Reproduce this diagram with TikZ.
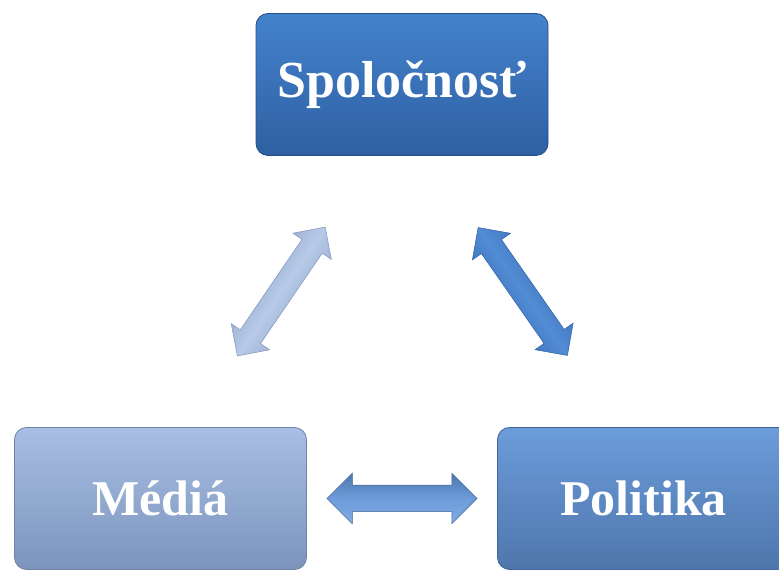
\documentclass[tikz,border=0pt]{standalone}
\usepackage{fontspec}
\setmainfont{Liberation Serif}
\usepackage{tikz}
\usetikzlibrary{calc,positioning,shapes.arrows}
\definecolor{spolTop}{RGB}{68,130,204}
\definecolor{spolBot}{RGB}{46,96,162}
\definecolor{spolEdge}{RGB}{36,78,136}
\definecolor{mediaTop}{RGB}{168,190,228}
\definecolor{mediaBot}{RGB}{124,148,188}
\definecolor{mediaEdge}{RGB}{110,130,166}
\definecolor{politTop}{RGB}{108,156,218}
\definecolor{politBot}{RGB}{78,118,172}
\definecolor{politEdge}{RGB}{66,102,152}
\definecolor{arLight}{RGB}{184,202,232}
\definecolor{arLightEdge}{RGB}{130,150,188}
\definecolor{arBlue}{RGB}{82,140,212}
\definecolor{arBlueEdge}{RGB}{46,98,168}
\tikzstyle{box}      = [rectangle, rounded corners=12pt, minimum width=292pt, minimum height=142pt, text=white, line width=0.8pt, font=\bfseries\fontsize{50}{60}\selectfont]
\tikzstyle{dblarrow} = [double arrow, inner xsep=0pt, inner ysep=12pt, double arrow head extend=11pt, minimum height=156pt, line width=0.5pt]

\begin{document}
\begin{tikzpicture}[x=1pt,y=1pt]
    \useasboundingbox (0,0) rectangle (779,570);

    \node[box, top color=spolTop, bottom color=spolBot, draw=spolEdge, font=\bfseries\fontsize{52}{62}\selectfont] (spol) at (402,485.5) {Spoločnosť};
    \node[box, top color=mediaTop, bottom color=mediaBot, draw=mediaEdge] (media) at (160.5,71.5) {Médiá};
    \node[box, top color=politTop, bottom color=politBot, draw=politEdge] (polit) at (643.5,71.5) {Politika};

    % sipky medzi krabicami
    \path (media) -- node[dblarrow, rotate=55.7, top color=arLightEdge, bottom color=arLightEdge, middle color=arLight, shading angle=55.7, draw=arLightEdge] (arMS) {} (spol);
    \path (spol) -- node[dblarrow, rotate=-55.1, top color=arBlueEdge, bottom color=arBlueEdge, middle color=arBlue, shading angle=-55.1, draw=arBlueEdge] (arSP) {} (polit);
    \path (media) -- node[dblarrow, minimum height=150pt, inner ysep=13pt, double arrow head extend=12pt, top color=politBot, bottom color=politTop!85!white, middle color=politTop, draw=politEdge] (arMP) {} (polit);
\end{tikzpicture}
\end{document}
